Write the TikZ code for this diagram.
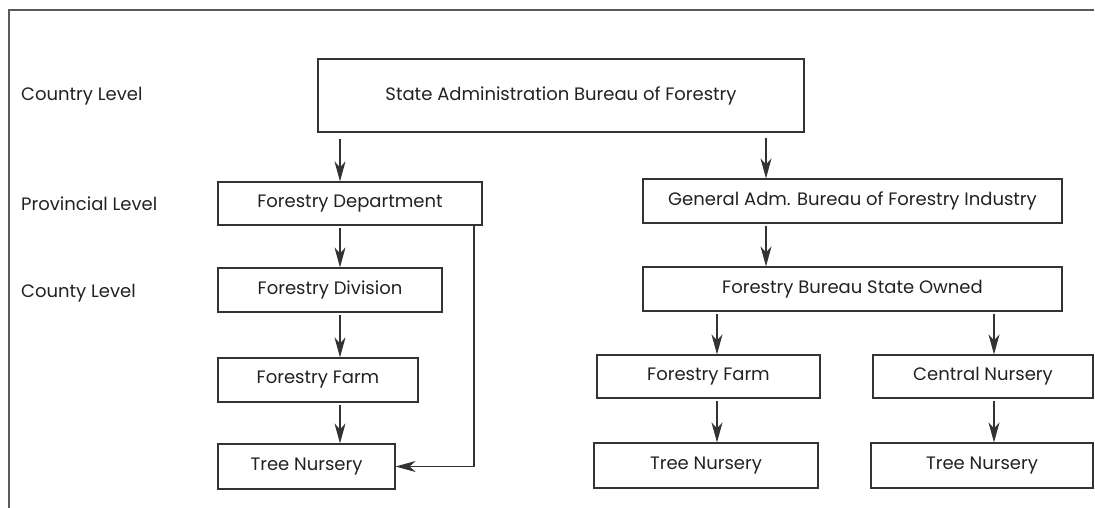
\documentclass[tikz,border=0pt]{standalone}
\usepackage{fontspec}
\setmainfont{Poppins}
\usetikzlibrary{arrows.meta}
\definecolor{orgLine}{HTML}{333333}
\definecolor{orgInk}{HTML}{222222}
\definecolor{orgFrame}{HTML}{5A5A5A}

\begin{document}
\begin{tikzpicture}[x=1pt,y=-1pt,line join=miter]
\useasboundingbox[fill=white] (0,0) rectangle (1095,508);
\tikzset{unit/.style={draw=orgLine,line width=1.2pt,inner sep=0pt,text=orgInk,font=\fontsize{18}{21}\selectfont},
  levelname/.style={anchor=base west,text=orgInk,inner sep=0pt,font=\fontsize{18}{21}\selectfont},
  link/.style={draw=orgLine,line width=1.2pt,-{Stealth[length=20pt,width=11pt,inset=6pt]},shorten <=2pt}}
% outer frame
\draw[orgFrame,line width=1.4pt] (9,508) -- (9,10) -- (1094,10);
% level labels
\node[levelname] (lvCountry) at (21,101) {Country Level};
\node[levelname] (lvProvince) at (21,210) {Provincial Level};
\node[levelname] (lvCounty) at (21,297) {County Level};
% bureau tree
\node[unit,minimum width=486pt,minimum height=73pt] (state) at (561,95.5) {State Administration Bureau of Forestry};
\node[unit,minimum width=264pt,minimum height=43pt] (dept) at (350,203.5) {Forestry Department};
\node[unit,minimum width=224pt,minimum height=44pt] (division) at (330,290) {Forestry Division};
\node[unit,minimum width=200pt,minimum height=44pt] (farmL) at (318,380) {Forestry Farm};
\node[unit,minimum width=177pt,minimum height=45pt] (nurseryL) at (306.5,466.5) {Tree Nursery};
\node[unit,minimum width=419pt,minimum height=44pt] (general) at (852.5,201) {General Adm. Bureau of Forestry Industry};
\node[unit,minimum width=419pt,minimum height=44pt] (owned) at (852.5,289) {Forestry Bureau State Owned};
\node[unit,minimum width=223pt,minimum height=43pt] (farmR) at (708.5,376.5) {Forestry Farm};
\node[unit,minimum width=220pt,minimum height=43pt] (central) at (983,376.5) {Central Nursery};
\node[unit,minimum width=224pt,minimum height=45pt] (nurseryM) at (706,465.5) {Tree Nursery};
\node[unit,minimum width=222pt,minimum height=45pt] (nurseryR) at (982,465.5) {Tree Nursery};
% arrow columns
\coordinate (colL) at (340,0);
\coordinate (colG) at (766,0);
\coordinate (colF) at (717,0);
\coordinate (colC) at (994,0);
\coordinate (colBack) at (474,0);
\draw[link,shorten <=6pt] (state.south -| colL) -- (dept.north -| colL);
\draw[link,shorten <=5pt] (state.south -| colG) -- (general.north -| colG);
\draw[link] (dept.south -| colL) -- (division.north -| colL);
\draw[link] (division.south -| colL) -- (farmL.north -| colL);
\draw[link] (farmL.south -| colL) -- (nurseryL.north -| colL);
\draw[link,shorten <=0pt] (dept.south -| colBack) |- (nurseryL.east);
\draw[link] (general.south -| colG) -- (owned.north -| colG);
\draw[link] (owned.south -| colF) -- (farmR.north -| colF);
\draw[link] (owned.south -| colC) -- (central.north -| colC);
\draw[link] (farmR.south -| colF) -- (nurseryM.north -| colF);
\draw[link] (central.south -| colC) -- (nurseryR.north -| colC);
\end{tikzpicture}
\end{document}
